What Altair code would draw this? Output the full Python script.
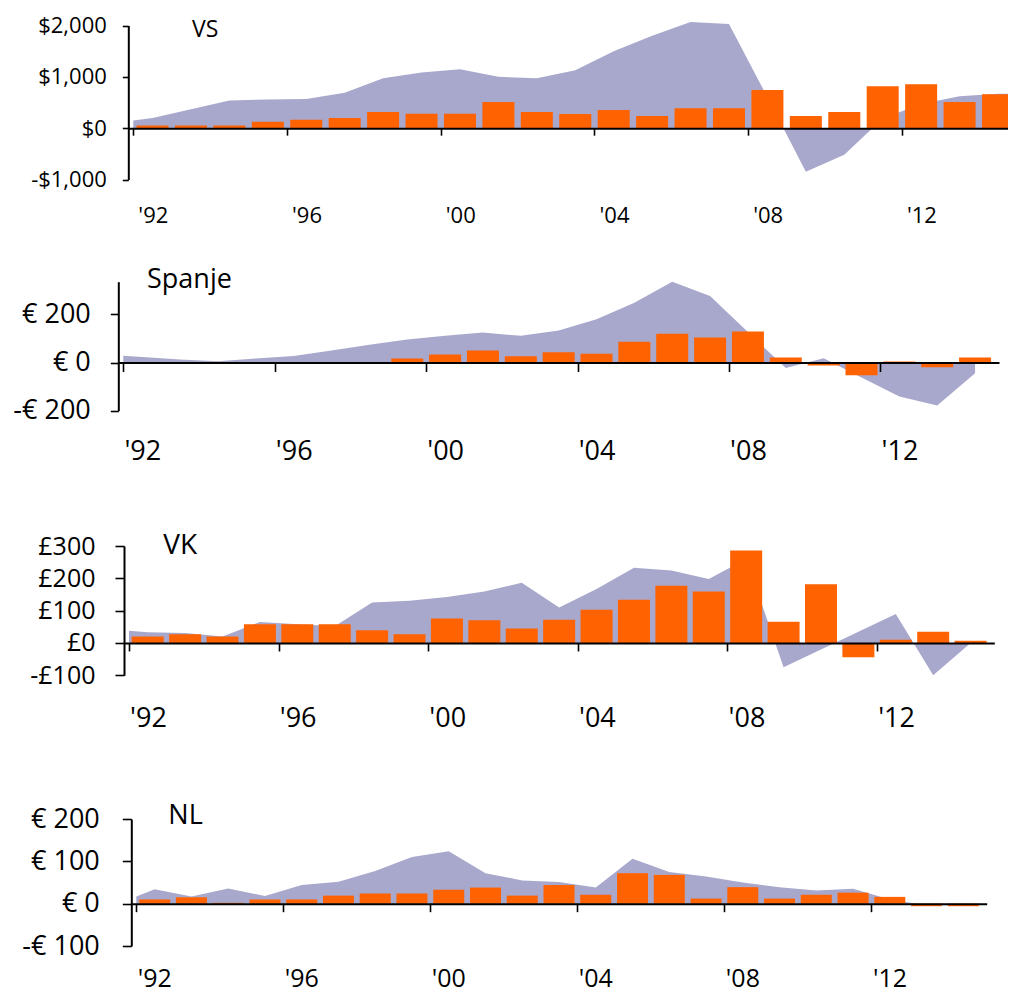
import json
import altair as alt
import pandas as pd

# ---------------- data ----------------
years = [1992, 1993, 1994, 1995, 1996, 1997, 1998, 1999, 2000, 2001, 2002, 2003,
         2004, 2005, 2006, 2007, 2008, 2009, 2010, 2011, 2012, 2013, 2014]
tick_years = [1992, 1996, 2000, 2004, 2008, 2012]
tick_labels = ["'92", "'96", "'00", "'04", "'08", "'12"]

# VS
vs_bars = [50, 50, 50, 125, 165, 200, 315, 280, 280, 510, 315, 275, 355, 235, 390, 390,
           745, 235, 314, 817, 856, 510, 660]
vs_area = [200, 370, 540, 560, 570, 690, 970, 1085, 1150, 1000, 970, 1130, 1500, 1800,
           2070, 2030, 600, -850, -520, 190, 470, 620, 670]
vs_area_start = 150
vs_area_end = 675
vs_y_ticks = [-1000, 0, 1000, 2000]
vs_y_labels = ["-$1,000", "$0", "$1,000", "$2,000"]

# Spanje
es_bars = [0, 0, 0, 0, 0, 0, 0, 17, 33, 50, 26, 43, 37, 87, 120, 104, 129, 21, -12, -53,
           4, -19, 21]
es_area = [23, 13, 5, 17, 27, 50, 74, 96, 111, 125, 111, 133, 180, 249, 343, 277, 127,
           -23, 18, -62, -141, -178, -44]
es_area_start = 28
es_y_ticks = [-200, 0, 200]
es_y_labels = ["-€ 200", "€ 0", "€ 200"]

# VK
uk_bars = [20, 27, 20, 58, 58, 58, 39, 27, 76, 70, 45, 72, 103, 134, 177, 159, 286, 66,
           182, -44, 10, 35, 7]
uk_area = [33, 31, 20, 65, 58, 52, 125, 131, 142, 159, 186, 110, 167, 233, 224, 198, 260,
           -75, -20, 35, 90, -101, 0]
uk_area_start = 38
uk_y_ticks = [-100, 0, 100, 200, 300]
uk_y_labels = ["-£100", "£0", "£100", "£200", "£300"]

# NL
nl_bars = [10, 15, 2, 10, 10, 19, 24, 24, 33, 38, 19, 44, 21, 72, 68, 12, 39, 12, 21, 26,
           16, -6, -6]
nl_area = [34, 17, 36, 18, 44, 52, 77, 110, 124, 72, 55, 51, 38, 106, 75, 64, 50, 39, 31,
           35, 10, -4, -4]
nl_area_start = 17
nl_y_ticks = [-100, 0, 100, 200]
nl_y_labels = ["-€ 100", "€ 0", "€ 100", "€ 200"]

# ---------------- style ----------------
ORANGE = "#ff6200"
LAVENDER = "#a8a8cc"
FONT = "Open Sans"


def label_expr(values, labels):
    expr = '""'
    for v, lab in reversed(list(zip(values, labels))):
        expr = f"datum.value === {v} ? {json.dumps(lab, ensure_ascii=False)} : ({expr})"
    return expr


def panel(name, bars, area, area_start, area_end, y_ticks, y_labels, L):
    bar_df = pd.DataFrame({"year": years, "value": bars})
    bar_df["mid"] = bar_df["year"] + 0.5
    ax = [years[0]] + [y + 0.5 for y in years]
    av = [area_start] + list(area)
    if area_end is not None:
        ax.append(years[-1] + 1)
        av.append(area_end)
    area_df = pd.DataFrame({"x": ax, "v": av})

    ymin, ymax = L["ydom"]
    yb, yt = L["yr"]
    zero_rel = yb - (0 - ymin) / (ymax - ymin) * (yb - yt)

    xscale = alt.Scale(domain=L["xdom"], range=[L["dx"], L["xr"]], nice=False, zero=False)
    yscale = alt.Scale(domain=L["ydom"], range=[yb, yt], nice=False, zero=False,
                       clamp=L["clamp"])

    xaxis = alt.Axis(
        orient="bottom", values=tick_years, labelExpr=label_expr(tick_years, tick_labels),
        offset=-(L["H"] - zero_rel), tickSize=L["xtick"], tickWidth=1.6, tickColor="black",
        domainColor="black", domainWidth=2, labelPadding=L["xpad"],
        labelFontSize=L["xfs"], labelOffset=L["xoff"], labelFlush=False,
        labelColor="black", labelFont=FONT, grid=False, title=None, zindex=1,
        labelOverlap=False,
    )
    yaxis = alt.Axis(
        orient="left", values=y_ticks, labelExpr=label_expr(y_ticks, y_labels),
        offset=-L["dx"], tickSize=L["ytick"], tickWidth=1.6, tickColor="black",
        domainColor="black", domainWidth=2, labelPadding=L["ypad"],
        labelFontSize=L["yfs"], labelFlush=False, labelColor="black", labelFont=FONT,
        grid=False, title=None, zindex=1, labelOverlap=False,
    )

    area_layer = alt.Chart(area_df).mark_area(
        color=LAVENDER, opacity=1, clip=True, interpolate="linear"
    ).encode(
        x=alt.X("x:Q", scale=xscale, axis=xaxis),
        y=alt.Y("v:Q", scale=yscale, axis=yaxis),
        y2=alt.datum(0),
    )
    bar_layer = alt.Chart(bar_df).mark_bar(
        color=ORANGE, width=L["bw"], clip=True
    ).encode(
        x=alt.X("mid:Q", scale=xscale, axis=xaxis),
        y=alt.Y("value:Q", scale=yscale, axis=yaxis),
        y2=alt.datum(0),
    )
    title_layer = alt.Chart(pd.DataFrame({"t": [name]})).mark_text(
        align="left", baseline="alphabetic", fontSize=L["tfs"], font=FONT, color="black"
    ).encode(text="t:N", x=alt.value(L["tx"]), y=alt.value(L["ty"]))

    return alt.layer(area_layer, bar_layer, title_layer).properties(
        width=L["W"], height=L["H"]
    )


W = 1000
vs = panel("VS", vs_bars, vs_area, vs_area_start, vs_area_end, vs_y_ticks, vs_y_labels,
           dict(W=W, H=242, dx=120.3, xr=1000, xdom=[1992, 2014.63], yr=[171.5, 17.5],
                ydom=[-1000, 2000], clamp=False, xtick=7, xpad=70.4, xfs=22, xoff=19.5,
                ytick=6, ypad=16, yfs=22, tx=184, ty=28.7, tfs=23, bw=32))
es = panel("Spanje", es_bars, es_area, es_area_start, None, es_y_ticks, es_y_labels,
           dict(W=W, H=270, dx=110.3, xr=991, xdom=[1992, 2015], yr=[160.7, 31.7],
                ydom=[-200, 336], clamp=True, xtick=9, xpad=67, xfs=27, xoff=19,
                ytick=8, ypad=20, yfs=27, tx=139, ty=38, tfs=27, bw=32))
uk = panel("VK", uk_bars, uk_area, uk_area_start, None, uk_y_ticks, uk_y_labels,
           dict(W=W, H=270, dx=116, xr=986.3, xdom=[1992, 2015], yr=[155.3, 26],
                ydom=[-100, 300], clamp=True, xtick=8, xpad=54.1, xfs=27, xoff=19,
                ytick=9, ypad=20, yfs=25, tx=155.3, ty=34, tfs=28, bw=32))
nl = panel("NL", nl_bars, nl_area, nl_area_start, None, nl_y_ticks, nl_y_labels,
           dict(W=W, H=200, dx=123.3, xr=978.7, xdom=[1992, 2015], yr=[156, 29],
                ydom=[-100, 200], clamp=True, xtick=8, xpad=55, xfs=25, xoff=18,
                ytick=9, ypad=23, yfs=27, tx=160.3, ty=34, tfs=27, bw=31))

chart = alt.vconcat(vs, es, uk, nl, spacing=0).properties(
    padding=0
).configure(font=FONT).configure_view(strokeWidth=0)

chart.save("out.html", embed_options={"renderer": "svg", "actions": False})
